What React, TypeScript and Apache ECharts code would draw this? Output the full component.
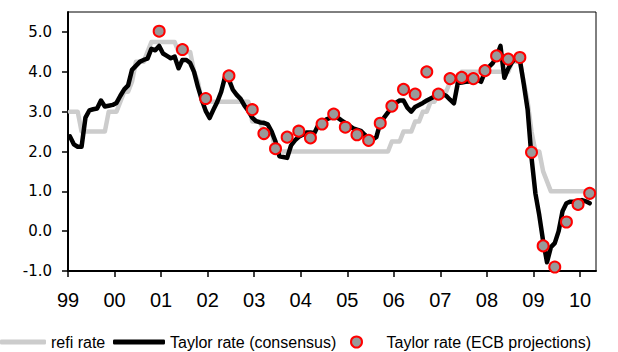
import { useEffect, useRef } from "react";
import * as echarts from "echarts";

// Monthly series start in January 1999; each value sits at mid-month.
const START_YEAR = 1999;

// ECB main refinancing rate, monthly (Jan 1999 – Mar 2010)
const refiRate = [
  3.0, 3.0, 3.0, 2.5, 2.5, 2.5, 2.5, 2.5, 2.5, 2.5, 3.0, 3.0,
  3.0, 3.25, 3.5, 3.5, 3.75, 4.25, 4.25, 4.25, 4.5, 4.75, 4.75, 4.75,
  4.75, 4.75, 4.75, 4.75, 4.5, 4.5, 4.5, 4.5, 4.0, 3.75, 3.25, 3.25,
  3.25, 3.25, 3.25, 3.25, 3.25, 3.25, 3.25, 3.25, 3.25, 3.25, 3.25, 2.75,
  2.75, 2.75, 2.5, 2.5, 2.5, 2.0, 2.0, 2.0, 2.0, 2.0, 2.0, 2.0,
  2.0, 2.0, 2.0, 2.0, 2.0, 2.0, 2.0, 2.0, 2.0, 2.0, 2.0, 2.0,
  2.0, 2.0, 2.0, 2.0, 2.0, 2.0, 2.0, 2.0, 2.0, 2.0, 2.0, 2.25,
  2.25, 2.25, 2.5, 2.5, 2.5, 2.75, 2.75, 3.0, 3.0, 3.25, 3.25, 3.5,
  3.5, 3.5, 3.75, 3.75, 3.75, 4.0, 4.0, 4.0, 4.0, 4.0, 4.0, 4.0,
  4.0, 4.0, 4.0, 4.0, 4.0, 4.0, 4.25, 4.25, 4.25, 3.75, 3.25, 2.5,
  2.0, 2.0, 1.5, 1.25, 1.0, 1.0, 1.0, 1.0, 1.0, 1.0, 1.0, 1.0,
  1.0, 1.0, 1.0,
];

// Taylor rate based on consensus forecasts, monthly (Jan 1999 – Mar 2010)
const taylorConsensus = [
  2.38, 2.18, 2.12, 2.12, 2.85, 3.03, 3.06, 3.08, 3.28, 3.13, 3.15, 3.17,
  3.22, 3.40, 3.56, 3.66, 4.05, 4.15, 4.25, 4.30, 4.33, 4.58, 4.54, 4.65,
  4.46, 4.40, 4.34, 4.38, 4.09, 4.30, 4.30, 4.22, 4.00, 3.62, 3.30, 3.02,
  2.84, 3.05, 3.25, 3.50, 3.88, 3.80, 3.55, 3.42, 3.32, 3.15, 3.02, 2.85,
  2.76, 2.73, 2.72, 2.68, 2.50, 2.25, 1.88, 1.86, 1.84, 2.15, 2.28, 2.37,
  2.42, 2.48, 2.48, 2.46, 2.66, 2.75, 2.80, 2.84, 2.87, 2.85, 2.78, 2.72,
  2.65, 2.58, 2.55, 2.52, 2.42, 2.33, 2.30, 2.36, 2.72, 2.85, 2.98, 3.12,
  3.22, 3.28, 3.28, 3.10, 3.00, 3.12, 3.17, 3.22, 3.28, 3.33, 3.38, 3.42,
  3.44, 3.40, 3.30, 3.21, 3.72, 3.73, 3.75, 3.76, 3.78, 3.80, 3.75, 4.00,
  4.12, 4.22, 4.38, 4.65, 3.85, 4.08, 4.25, 4.34, 4.30, 3.70, 3.05, 1.85,
  0.95, 0.40, -0.25, -0.78, -0.40, -0.30, 0.00, 0.50, 0.70, 0.74, 0.74, 0.76,
  0.78, 0.75, 0.70,
];

// Taylor rate computed from ECB staff projections
const projectionMonths = [
  "2000-12", "2001-06", "2001-12", "2002-06", "2002-12",
  "2003-03", "2003-06", "2003-09", "2003-12",
  "2004-03", "2004-06", "2004-09", "2004-12",
  "2005-03", "2005-06", "2005-09", "2005-12",
  "2006-03", "2006-06", "2006-09", "2006-12",
  "2007-03", "2007-06", "2007-09", "2007-12",
  "2008-03", "2008-06", "2008-09", "2008-12",
  "2009-03", "2009-06", "2009-09", "2009-12",
  "2010-03",
];
const projectionValues = [
  5.02, 4.56, 3.33, 3.90, 3.05,
  2.45, 2.07, 2.36, 2.51,
  2.34, 2.69, 2.94, 2.61,
  2.42, 2.28, 2.71, 3.14,
  3.56, 3.44, 4.00, 3.44,
  3.83, 3.86, 3.83, 4.03,
  4.40, 4.32, 4.36, 1.98,
  -0.37, -0.90, 0.23, 0.67,
  0.95,
];

const SERIES_NAMES = [
  "refi rate",
  "Taylor rate (consensus)",
  "Taylor rate (ECB projections)",
];

// Labelled axis range and the plot frame's slightly larger range
const X_TICK_MIN = 1999;
const X_TICK_MAX = 2010;
const Y_TICK_MIN = -1;
const Y_TICK_MAX = 5;
const X_FRAME_MAX = 2010.344;
const Y_FRAME_MAX = 5.502;

const monthX = (i: number) => START_YEAR + (i + 0.5) / 12;
const ymToX = (s: string) => {
  const [y, m] = s.split("-").map(Number);
  return y + (m - 0.5) / 12;
};

const SANS = "'Liberation Sans', Arial, Helvetica, sans-serif";
const LEGEND_TOP = 334;

export default function App() {
  const ref = useRef<HTMLDivElement>(null);

  useEffect(() => {
    if (!ref.current) return;
    const chart = echarts.init(ref.current, undefined, { renderer: "svg" });

    const refiData = refiRate.map((v, i) => [monthX(i), v]);
    const taylorData = taylorConsensus.map((v, i) => [monthX(i), v]);
    const projData = projectionMonths.map((m, i) => [ymToX(m), projectionValues[i]]);

    chart.setOption({
      animation: false,
      backgroundColor: "#ffffff",
      grid: [
        // plot frame holding the data
        { left: 68, top: 12, width: 528, height: 259, show: true, borderColor: "#000", borderWidth: 1, backgroundColor: "transparent" },
        // tick/label frame spanning the labelled range
        { left: 68, top: 32, width: 512, height: 239 },
      ],
      xAxis: [
        {
          type: "value",
          gridIndex: 0,
          min: X_TICK_MIN,
          max: X_FRAME_MAX,
          axisLine: { show: true, onZero: false, lineStyle: { color: "#000", width: 2 } },
          axisTick: { show: false },
          axisLabel: { show: false },
          splitLine: { show: false },
        },
        {
          type: "value",
          gridIndex: 1,
          min: X_TICK_MIN,
          max: X_TICK_MAX,
          interval: 1,
          axisLine: { show: false, onZero: false },
          axisTick: { show: true, length: 6, lineStyle: { color: "#000", width: 1.5 } },
          axisLabel: {
            show: true,
            margin: 19,
            color: "#000",
            fontFamily: SANS,
            fontSize: 20,
            formatter: (v: number) => String(Math.round(v)).slice(2),
          },
          splitLine: { show: false },
        },
      ],
      yAxis: [
        {
          type: "value",
          gridIndex: 0,
          min: Y_TICK_MIN,
          max: Y_FRAME_MAX,
          axisLine: { show: true, onZero: false, lineStyle: { color: "#000", width: 2 } },
          axisTick: { show: false },
          axisLabel: { show: false },
          splitLine: { show: false },
        },
        {
          type: "value",
          gridIndex: 1,
          min: Y_TICK_MIN,
          max: Y_TICK_MAX,
          interval: 1,
          axisLine: { show: false, onZero: false },
          axisTick: { show: true, length: 6, lineStyle: { color: "#000", width: 1.5 } },
          axisLabel: {
            show: true,
            margin: 16,
            color: "#000",
            fontFamily: "'DejaVu Sans', Verdana, sans-serif",
            fontSize: 15,
            formatter: (v: number) => v.toFixed(1),
          },
          splitLine: { show: false },
        },
      ],
      legend: [
        {
          data: [SERIES_NAMES[0]],
          left: 0,
          top: LEGEND_TOP,
          padding: 0,
          icon: "roundRect",
          itemWidth: 46,
          itemHeight: 5,
          selectedMode: false,
          itemStyle: { color: "#cccccc", borderWidth: 0 },
          textStyle: { color: "#000", fontFamily: SANS, fontSize: 16 },
        },
        {
          data: [SERIES_NAMES[1]],
          left: 113,
          top: LEGEND_TOP,
          padding: 0,
          icon: "roundRect",
          itemWidth: 52,
          itemHeight: 5,
          selectedMode: false,
          itemStyle: { color: "#000000", borderWidth: 0 },
          textStyle: { color: "#000", fontFamily: SANS, fontSize: 16 },
        },
        {
          data: [SERIES_NAMES[2]],
          left: 350,
          top: LEGEND_TOP,
          padding: 0,
          icon: "circle",
          itemWidth: 40,
          itemHeight: 11,
          selectedMode: false,
          itemStyle: { color: "#999999", borderColor: "#ff0000", borderWidth: 2 },
          textStyle: { color: "#000", fontFamily: SANS, fontSize: 16, padding: [0, 0, 0, 5] },
        },
      ],
      series: [
        {
          name: SERIES_NAMES[0],
          type: "line",
          xAxisIndex: 0,
          yAxisIndex: 0,
          data: refiData,
          symbol: "none",
          showSymbol: false,
          itemStyle: { color: "#cccccc" },
          lineStyle: { color: "#cccccc", width: 4.5, join: "round", cap: "round" },
          z: 2,
        },
        {
          name: SERIES_NAMES[1],
          type: "line",
          xAxisIndex: 0,
          yAxisIndex: 0,
          data: taylorData,
          symbol: "none",
          showSymbol: false,
          itemStyle: { color: "#000000" },
          lineStyle: { color: "#000000", width: 4.5, join: "round", cap: "round" },
          z: 3,
        },
        {
          name: SERIES_NAMES[2],
          type: "scatter",
          xAxisIndex: 0,
          yAxisIndex: 0,
          data: projData,
          symbol: "circle",
          symbolSize: 11,
          itemStyle: { color: "#999999", borderColor: "#ff0000", borderWidth: 2, opacity: 1 },
          z: 4,
        },
      ],
    });

    return () => chart.dispose();
  }, []);

  return (
    <div
      ref={ref}
      style={{ position: "fixed", left: 0, top: 0, width: 618, height: 352, background: "#fff" }}
    />
  );
}
